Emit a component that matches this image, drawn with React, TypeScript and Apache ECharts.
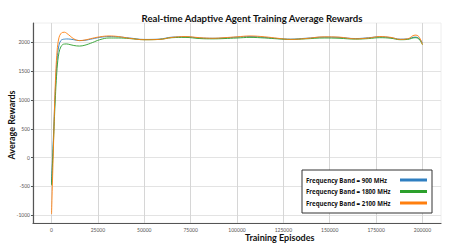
import React, { useEffect, useRef } from "react";
import * as echarts from "echarts";

const episodes = [0, 1000, 2000, 3000, 4000, 5000, 6000, 7000, 8000, 10000, 12000, 15000, 18000, 22000, 26000, 31000, 36000, 42000, 50000, 58000, 65000, 72000, 80000, 87000, 93000, 100000, 107000, 115000, 122000, 129000, 137000, 147000, 155000, 164000, 171000, 177000, 183000, 188000, 192000, 196000, 198000, 200000];

const band900 = [-450, 350, 1150, 1700, 1950, 2030, 2050, 2055, 2058, 2055, 2045, 2030, 2035, 2060, 2085, 2100, 2095, 2075, 2050, 2055, 2090, 2095, 2075, 2070, 2075, 2090, 2100, 2085, 2065, 2055, 2070, 2090, 2085, 2065, 2080, 2095, 2080, 2055, 2060, 2090, 2070, 1990];

const band1800 = [-480, 250, 1000, 1550, 1820, 1920, 1960, 1970, 1972, 1960, 1945, 1935, 1950, 1995, 2045, 2075, 2075, 2065, 2045, 2050, 2080, 2085, 2065, 2060, 2065, 2075, 2085, 2075, 2060, 2050, 2060, 2075, 2070, 2055, 2065, 2080, 2070, 2045, 2050, 2080, 2060, 1960];

const band2100 = [-980, 150, 1250, 1850, 2080, 2150, 2172, 2175, 2160, 2110, 2060, 2030, 2040, 2070, 2095, 2110, 2100, 2070, 2045, 2050, 2085, 2100, 2080, 2070, 2080, 2095, 2110, 2095, 2070, 2050, 2065, 2095, 2090, 2060, 2075, 2100, 2085, 2050, 2060, 2125, 2100, 1960];

const seriesNames = ["Frequency Band = 900 MHz", "Frequency Band = 1800 MHz", "Frequency Band = 2100 MHz"];
const seriesColors = ["#2f7fc1", "#2ca02c", "#ff7f0e"];
const xTicks = [0, 25000, 50000, 75000, 100000, 125000, 150000, 175000, 200000];
const yTicks = [-1000, -500, 0, 500, 1000, 1500, 2000];

const FONT = "Lato, 'DejaVu Sans', sans-serif";
const LEGEND_FONT = "'Open Sans', 'DejaVu Sans', sans-serif";

export default function App() {
  const ref = useRef<HTMLDivElement>(null);
  useEffect(() => {
    if (!ref.current) return;
    const chart = echarts.init(ref.current, null, { renderer: "svg" });
    const allData = [band900, band1800, band2100];
    chart.setOption({
      animation: false,
      backgroundColor: "#ffffff",
      textStyle: { fontFamily: FONT },
      title: {
        text: "Real-time Adaptive Agent Training Average Rewards",
        left: 247,
        top: 8,
        textAlign: "center",
        textStyle: { fontSize: 9.6, fontWeight: "bold", color: "#111", fontFamily: FONT },
      },
      grid: {
        left: 33,
        right: 9,
        top: 23,
        bottom: 27,
        show: true,
        borderColor: "#eeeeee",
        borderWidth: 1,
        backgroundColor: "#ffffff",
      },
      legend: {
        orient: "vertical",
        left: 302,
        top: 170,
        align: "right",
        icon: "rect",
        itemWidth: 27,
        itemHeight: 3,
        itemGap: 3.5,
        padding: [6, 5, 6, 4],
        borderColor: "#333",
        borderWidth: 1,
        backgroundColor: "#fff",
        formatter: (name: string) => `{a|${name}}`,
        textStyle: {
          rich: {
            a: { width: 89, height: 8, lineHeight: 8, align: "left", fontSize: 6.1, fontWeight: "bold", color: "#111", fontFamily: LEGEND_FONT },
          },
        },
        data: seriesNames,
      },
      xAxis: {
        type: "value",
        min: -10000,
        max: 210000,
        axisLine: { show: true, onZero: false, lineStyle: { color: "#555", width: 1.2 } },
        axisTick: { show: false, customValues: xTicks },
        axisLabel: { customValues: xTicks, fontSize: 5, color: "#555", margin: 4, formatter: (v: number) => String(v) },
        splitLine: { show: true, lineStyle: { color: "#d6d6d6", width: 1 } },
      },
      yAxis: {
        type: "value",
        min: -1135,
        max: 2335,
        axisLine: { show: true, onZero: false, lineStyle: { color: "#555", width: 1.2 } },
        axisTick: { show: true, customValues: yTicks, length: 2, lineStyle: { color: "#555" } },
        axisLabel: { customValues: yTicks, fontSize: 5, color: "#555", margin: 3, formatter: (v: number) => String(v) },
        splitLine: { show: true, lineStyle: { color: "#e3e3e3", width: 1.2 } },
      },
      graphic: [
        {
          type: "text",
          left: 245,
          top: 233,
          style: { text: "Training Episodes", fontSize: 9, fontWeight: "bold", fill: "#111", fontFamily: FONT, textAlign: "center" },
        },
        {
          type: "text",
          x: 11,
          y: 125,
          rotation: Math.PI / 2,
          style: { text: "Average Rewards", fontSize: 9, fontWeight: "bold", fill: "#111", fontFamily: FONT, align: "center", verticalAlign: "middle" },
        },
      ],
      series: seriesNames.map((name, i) => ({
        name,
        type: "line",
        smooth: 0.4,
        showSymbol: false,
        symbol: "none",
        color: seriesColors[i],
        lineStyle: { width: 1, color: seriesColors[i], opacity: 0.9 },
        data: episodes.map((x, j) => [x, allData[i][j]]),
      })),
    });
    return () => chart.dispose();
  }, []);
  return <div ref={ref} style={{ width: 450, height: 250, position: "absolute", left: 0, top: 0 }} />;
}
